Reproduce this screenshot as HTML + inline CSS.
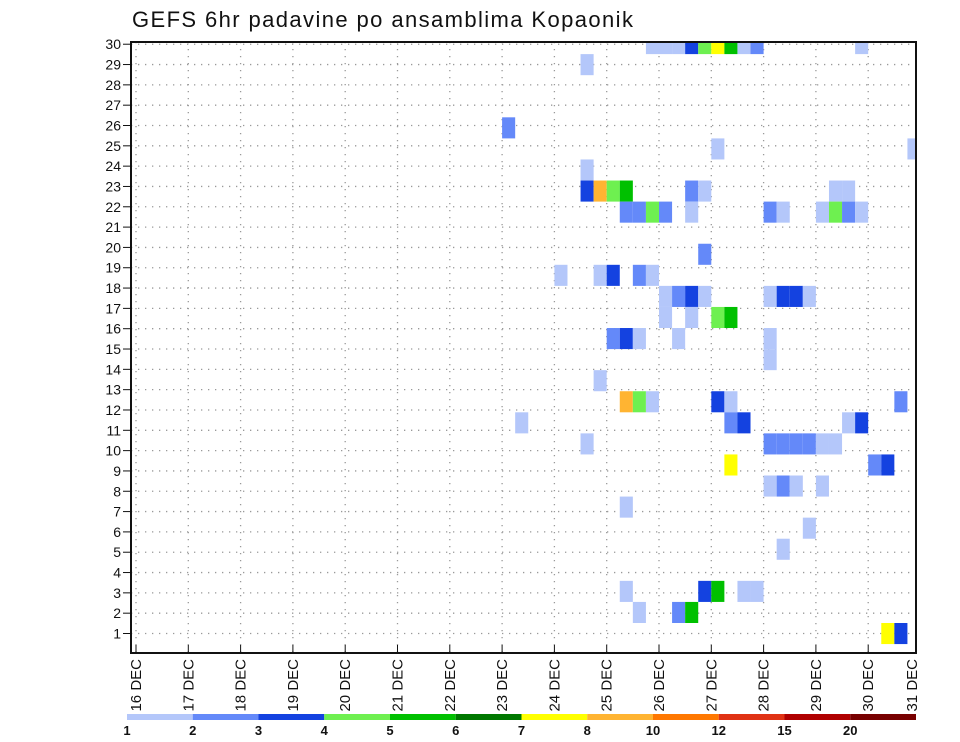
<!DOCTYPE html>
<html><head><meta charset="utf-8"><style>
html,body{margin:0;padding:0;background:#fff;}
svg{display:block;font-family:"Liberation Sans","DejaVu Sans",sans-serif;}
</style></head><body>
<svg id="chart" width="960" height="742" viewBox="0 0 960 742" xmlns="http://www.w3.org/2000/svg">
<text x="132" y="27" font-size="22" fill="#111" letter-spacing="1.4">GEFS 6hr padavine po ansamblima Kopaonik</text>
<g id="grid"></g>
<g id="cells"></g>
<rect x="131" y="42" width="785" height="611" fill="none" stroke="#111" stroke-width="2"/>
<g id="yaxis"></g>
<g id="xaxis"></g>
<g id="legend"></g>
</svg>
<script>
// ---- data ----
const dayLabels = ["16 DEC","17 DEC","18 DEC","19 DEC","20 DEC","21 DEC","22 DEC","23 DEC","24 DEC","25 DEC","26 DEC","27 DEC","28 DEC","29 DEC","30 DEC","31 DEC"];
const memberTicks = [1,2,3,4,5,6,7,8,9,10,11,12,13,14,15,16,17,18,19,20,21,22,23,24,25,26,27,28,29,30];
const legendLabels = ["1","2","3","4","5","6","7","8","10","12","15","20"];
const legendColors = ["#b4c7fa","#6489f9","#1442e0","#6ef050","#00c000","#007800","#ffff00","#ffb432","#ff7800","#e03214","#b00000","#780000"];
// ensemble member row (1 = bottom, 29 = top)
const memberRows = [29,28,25,24,23,22,21,19,18,17,16,15,14,13,12,11,10,9,8,7,6,5,3,2,1];
// 6-hourly step index (from 16 DEC 00z) of each wet cell, per member row
const rowSteps = [
 [39,40,41,42,43,44,45,46,47,55],[34],[28],[44,59],[34],
 [34,35,36,37,42,43,53,54],[37,38,39,40,42,48,49,52,53,54,55],[43],
 [32,35,36,38,39],[40,41,42,43,48,49,50,51],[40,42,44,45],[36,37,38,41,48],
 [48],[35],[37,38,39,44,45,58],[29,45,46,54,55],[34,48,49,50,51,52,53],
 [45,56,57],[48,49,50,52],[37],[51],[49],[37,43,44,46,47],[38,41,42],[57,58]
];
// precipitation class (index into legend) per cell
const rowClasses = [
 [0,0,0,2,3,6,4,0,1,0],[0],[1],[0,0],[0],
 [2,7,3,4,1,0,0,0],[1,1,3,1,0,1,0,0,3,1,0],[1],
 [0,0,2,1,0],[0,1,2,0,0,2,2,0],[0,0,3,4],[1,2,0,0,0],
 [0],[0],[7,3,0,2,0,1],[0,1,2,0,2],[0,1,1,1,1,0,0],
 [6,1,2],[0,1,0,0],[0],[0],[0],[0,2,4,0,0],[0,1,4],[6,2]
];
</script>
<script>
const NS="http://www.w3.org/2000/svg";
const X0=136, DAYW=52.3, STEPW=DAYW/4;
const PL=131, PR=916, PT=42, PB=653;
function xDay(d){return X0+d*DAYW;}
function xStep(s){return X0+s*STEPW;}
function yTick(m){return 633.5-(m-1)*20.32;}
function yCell(m){return 633.5-(m-1)*21.07;}
function mk(tag,attrs,parent){const e=document.createElementNS(NS,tag);for(const k in attrs)e.setAttribute(k,attrs[k]);parent.appendChild(e);return e;}
const grid=document.getElementById('grid'), cells=document.getElementById('cells');
const yaxis=document.getElementById('yaxis'), xaxis=document.getElementById('xaxis'), legend=document.getElementById('legend');
memberTicks.forEach(m=>{
  const y=yTick(m);
  const l=mk('line',{x1:PL,x2:PR,y1:y,y2:y,stroke:'#999','stroke-width':1.3,'stroke-dasharray':'1.3 5.7'},grid);
  
  
  const t=mk('line',{x1:123,x2:PL,y1:y,y2:y,stroke:'#111','stroke-width':1},yaxis);
  
  
  const tx=mk('text',{x:121,y:y+5,'text-anchor':'end','font-size':14,fill:'#111'},yaxis);
  tx.textContent=m;
  
  
});
dayLabels.forEach((d,i)=>{
  const x=xDay(i);
  if(x<PR){
    const l=mk('line',{x1:x,x2:x,y1:PT,y2:PB,stroke:'#999','stroke-width':1.3,'stroke-dasharray':'1.3 5.7'},grid);
    
    
    const t=mk('line',{x1:x,x2:x,y1:PB-8,y2:PB,stroke:'#111','stroke-width':1},xaxis);
    
    
  }
  const lx=Math.min(x,912);
  const tx=mk('text',{transform:`translate(${lx+5},659) rotate(-90)`,'text-anchor':'end','font-size':15,fill:'#111'},xaxis);
  tx.textContent=d;
  
  
});
memberRows.forEach((m,ri)=>{
  rowSteps[ri].forEach((s,ci)=>{
    let x=xStep(s), w=STEPW;
    if(x+w>PR) w=PR-x;
    let y=yCell(m)-10.5, h=21.07;
    if(y<PT){h-=PT-y;y=PT;}
    const r=mk('rect',{x:x,y:y,width:w,height:h,fill:legendColors[rowClasses[ri][ci]]},cells);
    
    
  });
});
const LX=127, LW=(916-127)/legendColors.length;
legendColors.forEach((c,i)=>{
  const r=mk('rect',{x:LX+i*LW,y:714,width:LW,height:6,fill:c},legend);
  
  
  const t=mk('text',{x:LX+i*LW,y:735,'text-anchor':'middle','font-size':13,'font-weight':'bold',fill:'#111'},legend);
  t.textContent=legendLabels[i];
  
  
});
</script>
</body></html>
